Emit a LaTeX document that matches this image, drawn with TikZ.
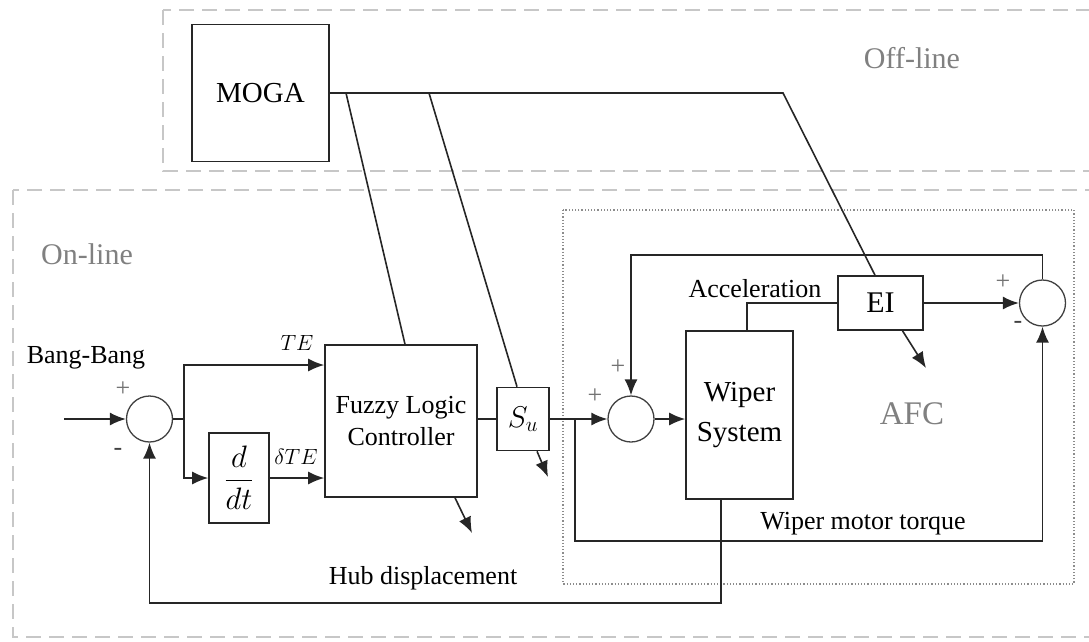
\RequirePackage{fix-cm}
\documentclass[tikz,border=0pt]{standalone}
\usepackage{amsmath}
\usepackage{fontspec}
\setmainfont{Liberation Serif}
\usetikzlibrary{arrows.meta,positioning,calc}

\begin{document}
\begin{tikzpicture}[x=1pt, y=-1pt,
    blk/.style={draw=black!85, line width=1.6pt, fill=white, align=center, inner sep=0pt,
        font=\fontsize{26}{32}\selectfont},
    sumnode/.style={draw=black!75, circle, line width=1.3pt, minimum size=46pt, inner sep=0pt},
    sig/.style={draw=black!85, line width=1.6pt},
    arr/.style={sig, -{Latex[length=16pt,width=13pt]}},
    zone/.style={draw=black!22, line width=1.6pt, dash pattern=on 15pt off 8pt},
    lbl/.style={font=\fontsize{26}{30}\selectfont},
    mlbl/.style={font=\fontsize{22}{26}\selectfont},
    zonelbl/.style={text=black!50, font=\fontsize{30}{32}\selectfont},
    sgn/.style={text=black!55, font=\fontsize{26}{26}\selectfont}]
    \useasboundingbox (0,0) rectangle (1089,641);

    % Off-line / On-line zones and the AFC loop
    \draw[zone] (163,10) rectangle (1110,171);
    \draw[zone] (13,190) rectangle (1110,637);
    \draw[draw=black!45, line width=1.2pt, dotted] (563,210) rectangle (1074,584);
    \node[zonelbl] (offl) at (912,58) {Off-line};
    \node[zonelbl] (onl) at (87,254) {On-line};
    \node[zonelbl, font=\fontsize{33}{35}\selectfont] (afc) at (912,414) {AFC};

    % blocks
    \node[blk, minimum width=137pt, minimum height=137pt, font=\fontsize{29}{32}\selectfont] (moga) at (260.5,93) {MOGA};
    \node[sumnode] (s1) at (149.5,419) {};
    \node[blk, minimum width=60pt, minimum height=90pt, font=\fontsize{31}{34}\selectfont] (ddt) at (239,478) {$\displaystyle\frac{d}{dt}$};
    \node[blk, minimum width=152pt, minimum height=152pt] (flc) at (401,421) {Fuzzy Logic\\Controller};
    \node[blk, minimum width=52pt, minimum height=63pt, font=\fontsize{30}{32}\selectfont] (su) at (523,419) {$S_u$};
    \node[sumnode] (s2) at (631,419) {};
    \node[blk, minimum width=107pt, minimum height=168pt, font=\fontsize{29}{40}\selectfont] (wip) at (739.5,415) {Wiper\\System};
    \node[blk, minimum width=85pt, minimum height=54pt, font=\fontsize{30}{32}\selectfont] (ei) at (880.5,303) {EI};
    \node[sumnode] (s3) at (1042.5,303) {};

    % free ends and bends
    \coordinate (inp) at (64,419);
    \coordinate (br1) at (184,419);
    \coordinate (teY) at (0,365);
    \coordinate (br2) at (575,419);
    \coordinate (trq) at (575,541);
    \coordinate (fbY) at (0,255);
    \coordinate (hubY) at (0,603);
    \coordinate (m1) at (346,93);
    \coordinate (m2) at (429,93);
    \coordinate (m3) at (783,93);
    \coordinate (flcOut) at (472,533);
    \coordinate (suOut) at (548,477);
    \coordinate (eiOut) at (926,368);

    % main loop
    \draw[arr] (inp) -- (s1.west);
    \draw[sig] (s1.east) -- (br1);
    \draw[arr] (br1) |- (flc.west |- teY);
    \draw[arr] (br1) |- (ddt.west);
    \draw[arr] (ddt.east) -- (flc.west |- ddt.east);
    \draw[sig] (flc.east |- su) -- (su.west);
    \draw[arr] (su.east) -- (s2.west);
    \draw[arr] (s2.east) -- (wip.west |- s2);
    \draw[arr] (br2) -- (trq) -| (s3.south);
    \draw[sig] ([xshift=7.5pt]wip.north) |- (ei.west);
    \draw[arr] (ei.east) -- (s3.west);
    \draw[arr] (s3.north) |- (s2.north |- fbY) -- (s2.north);
    \draw[arr] ([xshift=-18.5pt]wip.south) |- (s1.south |- hubY) -- (s1.south);

    % tuning by MOGA
    \draw[sig] (moga.east |- m1) -- (m3) -- ([xshift=-5.5pt]ei.north);
    \draw[sig] (m1) -- ([xshift=4pt]flc.north);
    \draw[sig] (m2) -- ([xshift=-6pt]su.north);
    \draw[arr] ([xshift=54pt]flc.south) -- (flcOut);
    \draw[arr] ([xshift=14pt]su.south) -- (suOut);
    \draw[arr] ([xshift=22pt]ei.south) -- (eiOut);

    % signal labels
    \node[lbl] (bang) at (86,358) {Bang-Bang};
    \node[mlbl] (te) at (297,343) {$TE$};
    \node[mlbl] (dte) at (296,457) {$\delta TE$};
    \node[lbl] (acc) at (755,289) {Acceleration};
    \node[lbl] (torq) at (863,524) {Wiper motor torque};
    \node[lbl] (hub) at (423,578) {Hub displacement};

    % signs
    \node[sgn] (p1) at (123,389) {+};
    \node[sgn, text=black!75] (n1) at (118,452) {-};
    \node[sgn] (p2) at (595,396) {+};
    \node[sgn] (p3) at (618,367) {+};
    \node[sgn] (p4) at (1003,282) {+};
    \node[sgn, text=black!75] (n4) at (1018,325) {-};
\end{tikzpicture}
\end{document}
